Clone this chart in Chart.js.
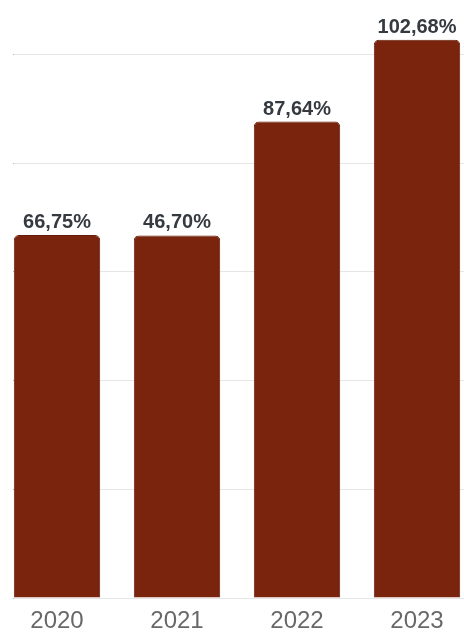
<!DOCTYPE html>
<html>
<head>
<meta charset="utf-8">
<script src="https://cdn.jsdelivr.net/npm/chart.js@4/dist/chart.umd.min.js"></script>
<style>
  html, body { margin: 0; padding: 0; background: #fff; width: 464px; height: 632px; overflow: hidden; }
  #marco { width: 464px; height: 632px; position: relative; overflow: hidden; }
  #wrap { width: 480px; height: 644px; position: absolute; left: -3px; top: 0; }
</style>
</head>
<body>
<div id="marco"><div id="wrap"><canvas id="grafica"></canvas></div></div>
<script>
// Datos
const anios = ["2020", "2021", "2022", "2023"];
// altura de cada barra (la de 2021 aparece dibujada a la misma altura que 2020)
const alturas = [66.75, 66.7, 87.64, 102.68];
// etiquetas que aparecen encima de cada barra
const etiquetas = ["66,75%", "46,70%", "87,64%", "102,68%"];
const marcasY = [0, 20, 40, 60, 80, 100];

const colorBarra = "#7a240d";

// etiquetas encima de las barras
const etiquetasPlugin = {
  id: "etiquetas",
  afterDatasetsDraw(chart) {
    const ctx = chart.ctx;
    const meta = chart.getDatasetMeta(0);
    ctx.save();
    ctx.font = "bold 20px 'Liberation Sans', Arial, sans-serif";
    ctx.fillStyle = "#353a40";
    ctx.textAlign = "center";
    ctx.textBaseline = "alphabetic";
    meta.data.forEach((bar, i) => {
      ctx.fillText(etiquetas[i], bar.x, bar.y - 7);
    });
    ctx.restore();
  }
};

// la rejilla empieza en el borde de la primera barra
function colorRejilla(context) {
  const chart = context.chart;
  if (!marcasY.includes(context.tick.value)) return "rgba(0,0,0,0)";
  const g = chart.ctx.createLinearGradient(0, 0, chart.width, 0);
  g.addColorStop(0, "rgba(0,0,0,0)");
  g.addColorStop(16 / chart.width, "rgba(0,0,0,0)");
  g.addColorStop(17 / chart.width, "#e6e6e6");
  g.addColorStop(1, "#e6e6e6");
  return g;
}

const ctx = document.getElementById("grafica").getContext("2d");

new Chart(ctx, {
  type: "bar",
  data: {
    labels: anios,
    datasets: [{
      data: alturas,
      backgroundColor: colorBarra,
      borderColor: "#651c0a",
      borderWidth: 1,
      borderRadius: 5,
      categoryPercentage: 1,
      barPercentage: 0.72
    }]
  },
  options: {
    responsive: true,
    maintainAspectRatio: false,
    animation: false,
    layout: { padding: 0 },
    plugins: {
      legend: { display: false },
      tooltip: { enabled: false }
    },
    scales: {
      x: {
        grid: { display: false, drawTicks: false },
        border: { display: false },
        ticks: {
          color: "#686868",
          padding: 11,
          font: { family: "'Liberation Sans', Arial, sans-serif", size: 24, lineHeight: 1 }
        }
      },
      y: {
        min: 0,
        max: 110,
        ticks: { display: false, stepSize: 20 },
        border: { display: false },
        grid: { drawTicks: false, color: colorRejilla, lineWidth: 1 }
      }
    }
  },
  plugins: [etiquetasPlugin]
});
</script>
</body>
</html>
